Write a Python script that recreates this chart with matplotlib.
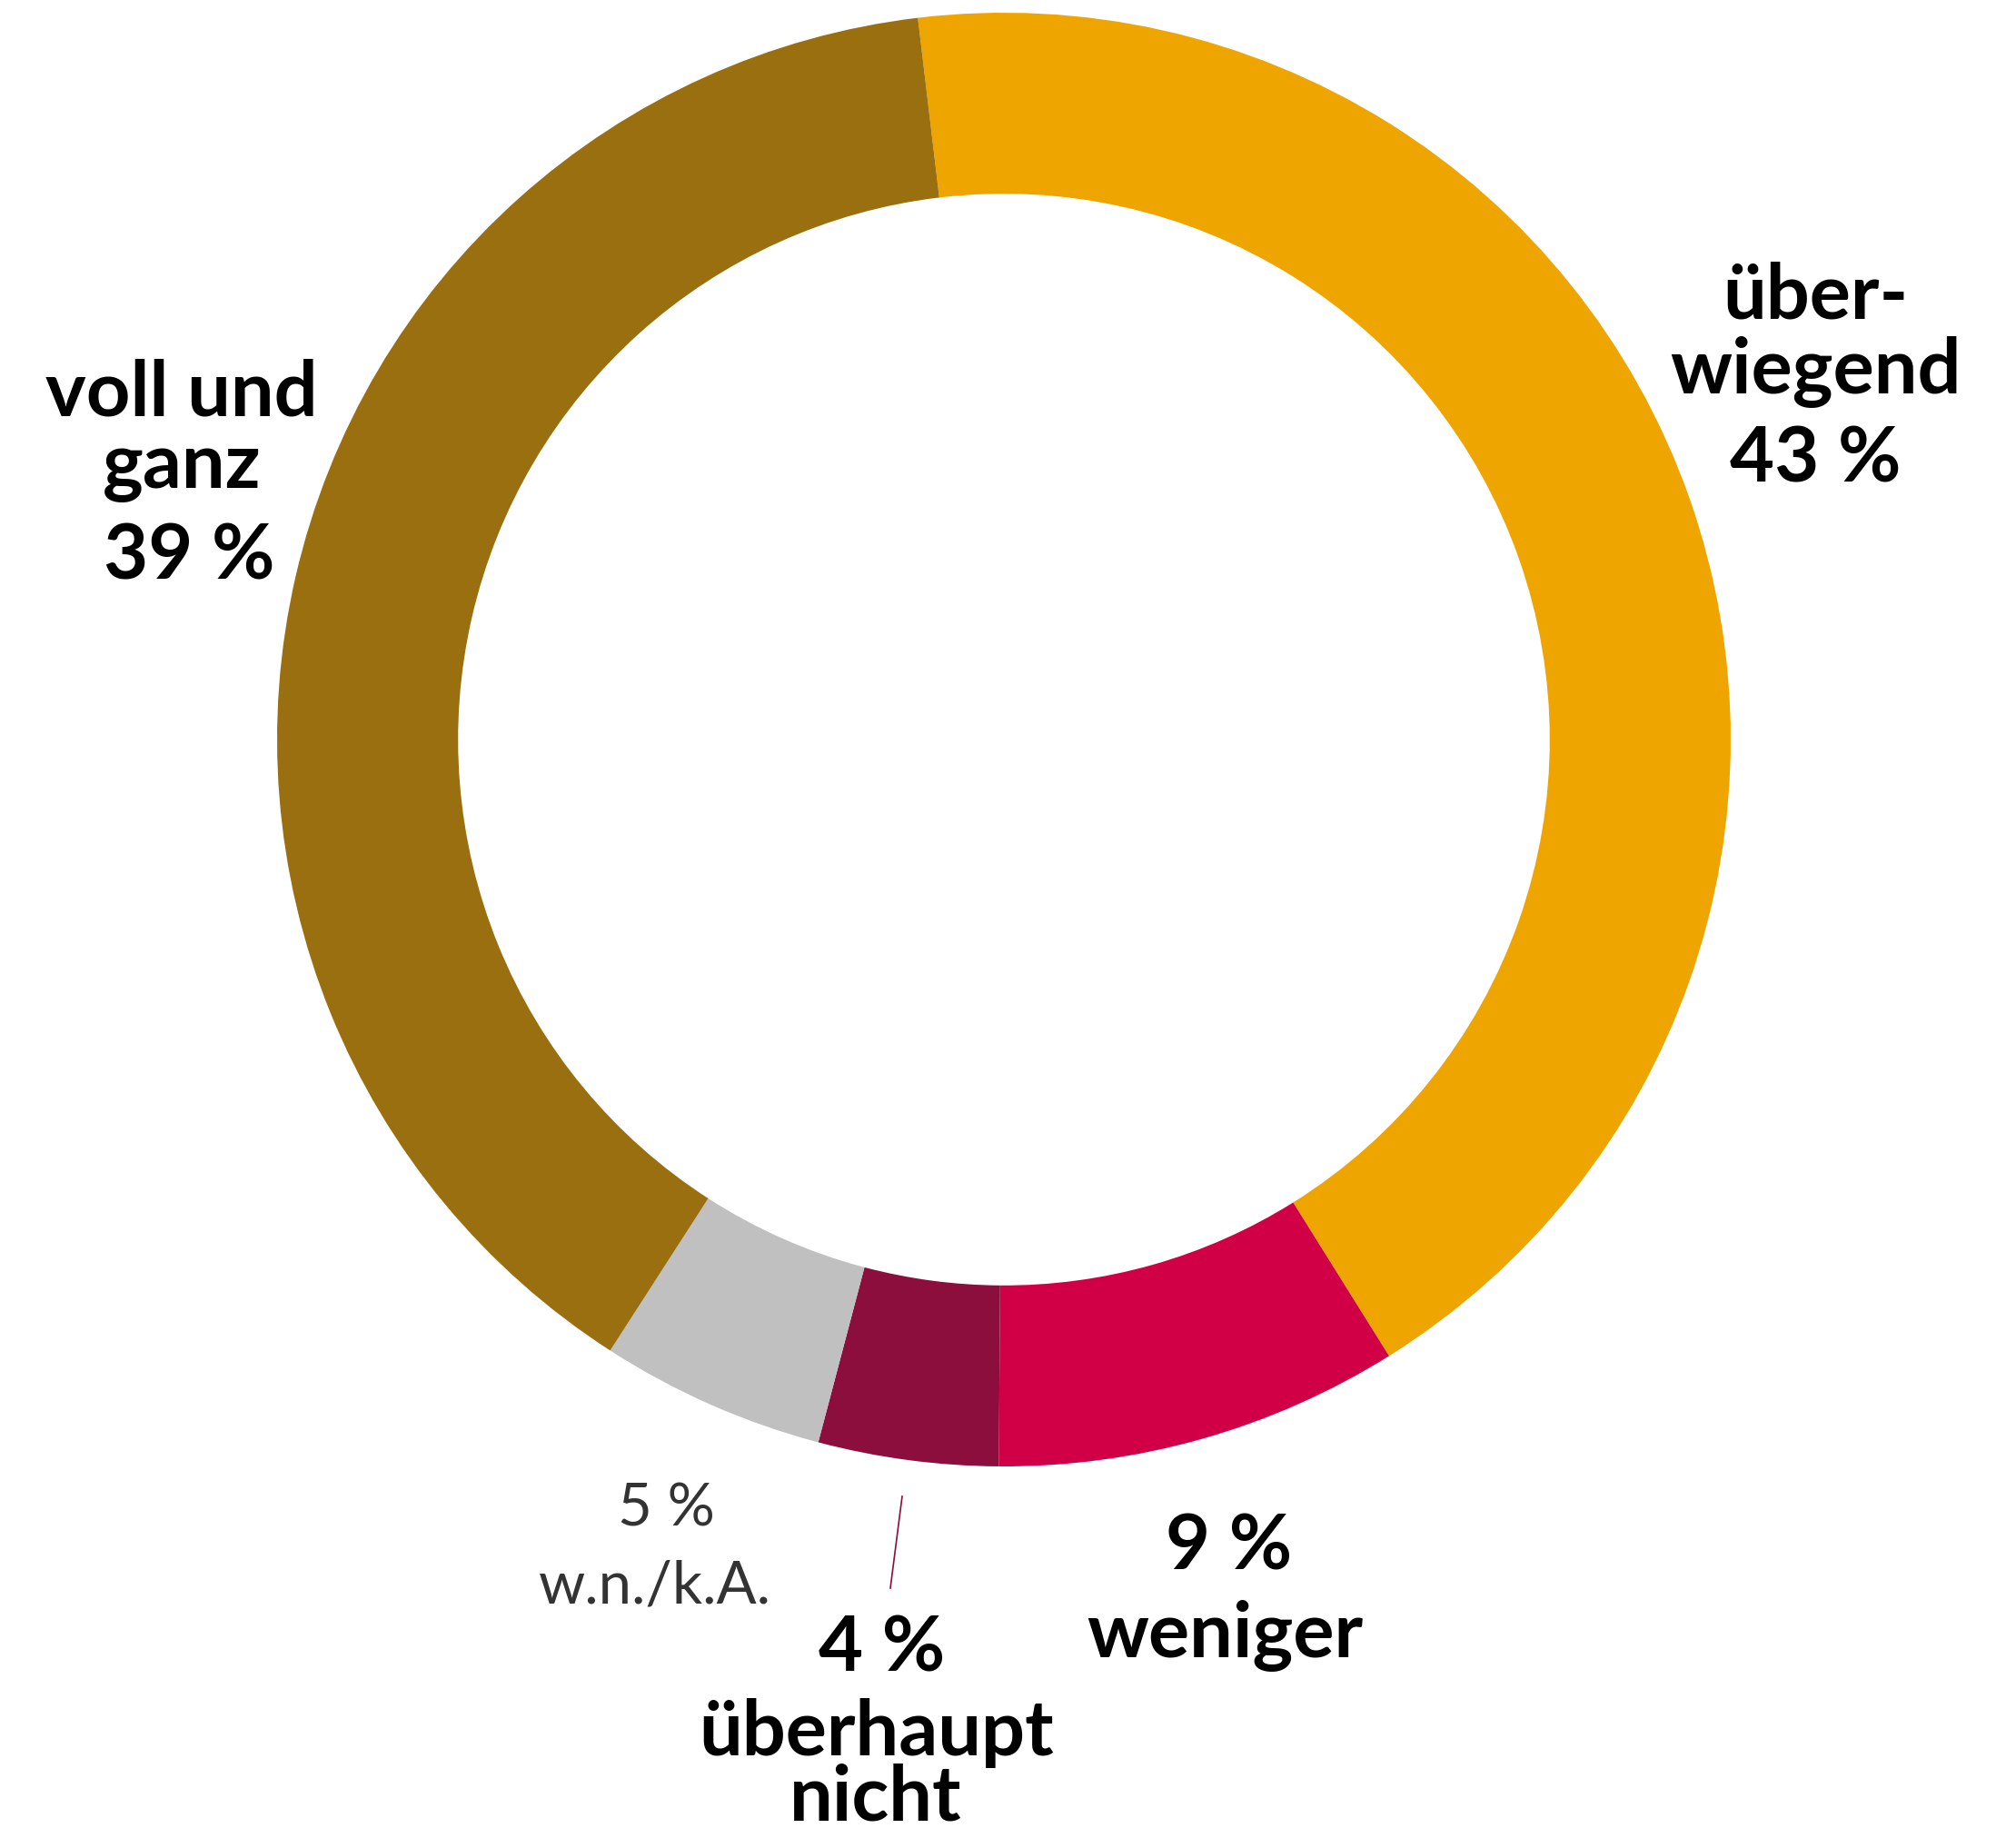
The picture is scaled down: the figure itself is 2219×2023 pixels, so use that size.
import matplotlib
matplotlib.use("Agg")
import matplotlib.pyplot as plt

# data (clockwise from the top)
labels = ["überwiegend", "weniger", "überhaupt nicht", "w.n./k.A.", "voll und ganz"]
values = [43, 9, 4, 5, 39]
colors = ["#EFA500", "#D10046", "#8C0E3C", "#C0C0C0", "#9A6F10"]

W, H = 2219, 2023
fig = plt.figure(figsize=(W / 100, H / 100), dpi=100)
ax = fig.add_axes([0, 0, 1, 1])

cx, cy, r = 1105, H - 814, 800
ax.pie(values, colors=colors, startangle=96.8, counterclock=False,
       center=(cx, cy), radius=r,
       wedgeprops=dict(width=r * 0.249, linewidth=0))

ax.set_xlim(0, W)
ax.set_ylim(0, H)
ax.set_aspect("equal")
ax.axis("off")

bold = dict(family="Lato", weight="bold", fontsize=61, color="black",
            ha="center", va="baseline")
light = dict(family="Lato", weight="normal", fontsize=47, color="#333333",
             ha="center", va="baseline")

# überwiegend
ax.text(1998, H - 350, "über-", **bold)
ax.text(1998, H - 432, "wiegend", **bold)
ax.text(1998, H - 530, "43 %", **bold)

# voll und ganz
ax.text(200, H - 457, "voll und", **bold)
ax.text(200, H - 537, "ganz", **bold)
ax.text(208, H - 637, "39 %", **bold)

# weniger
ax.text(1353, H - 1728, "9 %", **bold)
ax.text(1348, H - 1823, "weniger", **bold)

# überhaupt nicht
ax.plot([993, 980], [H - 1647, H - 1748], color="#8C0E3C", linewidth=1.2)
ax.text(971, H - 1840, "4 %", **bold)
ax.text(965, H - 1932, "überhaupt", **bold)
ax.text(964, H - 2003, "nicht", **bold)

# w.n./k.A.
ax.text(733, H - 1680, "5 %", **light)
ax.text(721, H - 1765, "w.n./k.A.", **light)

fig.savefig("out.png", dpi=100)
